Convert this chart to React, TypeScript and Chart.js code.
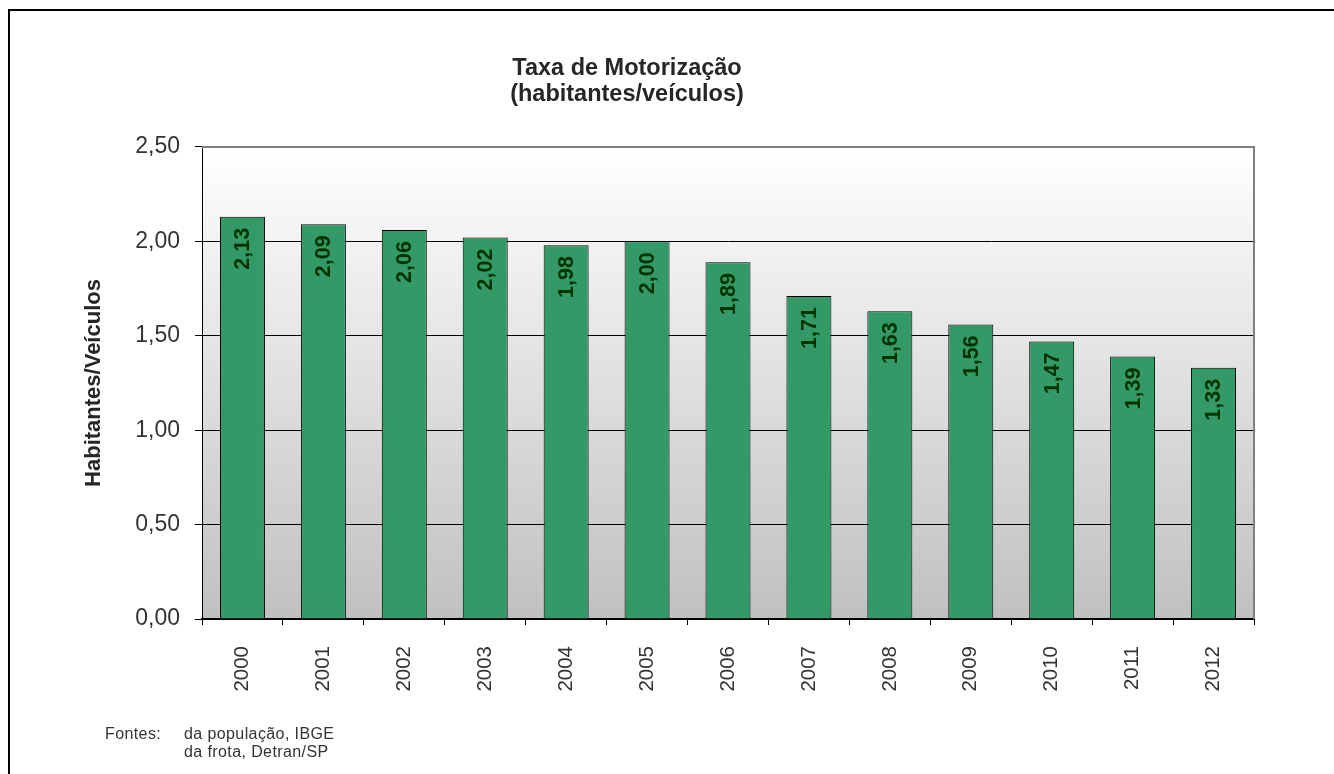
import React, { useEffect, useRef } from 'react';
import { Chart, registerables } from 'chart.js';

Chart.register(...registerables);

const years = ['2000', '2001', '2002', '2003', '2004', '2005', '2006', '2007', '2008', '2009', '2010', '2011', '2012'];
const rates = [2.13, 2.09, 2.06, 2.02, 1.98, 2.0, 1.89, 1.71, 1.63, 1.56, 1.47, 1.39, 1.33];
const yMin = 0;
const yMax = 2.5;
const yStep = 0.5;
const titleLines = ['Taxa de Motorização', '(habitantes/veículos)'];
const yAxisTitle = 'Habitantes/Veículos';
const sourceLabel = 'Fontes:';
const sourceLines = ['da população, IBGE', 'da frota, Detran/SP'];

const FONT = '"Liberation Sans", Arial, Helvetica, sans-serif';
const fmt = (v: number) => v.toFixed(2).replace('.', ',');

const decorPlugin = {
  id: 'decor',
  beforeDraw(chart: any) {
    const { ctx, chartArea: a, width, height } = chart;
    ctx.save();
    ctx.fillStyle = '#ffffff';
    ctx.fillRect(0, 0, width, height);
    const g = ctx.createLinearGradient(0, a.top, 0, a.bottom);
    g.addColorStop(0, '#ffffff');
    g.addColorStop(1, '#c0c0c0');
    ctx.fillStyle = g;
    ctx.fillRect(a.left, a.top, a.right - a.left, a.bottom - a.top);
    ctx.strokeStyle = '#000000';
    ctx.lineWidth = 2;
    ctx.strokeRect(9, 10, width + 40, height + 40);
    ctx.restore();
  },
  afterDatasetsDraw(chart: any) {
    const { ctx } = chart;
    const meta = chart.getDatasetMeta(0);
    ctx.save();
    ctx.fillStyle = '#003300';
    ctx.font = 'bold 21.5px ' + FONT;
    ctx.textAlign = 'right';
    ctx.textBaseline = 'middle';
    meta.data.forEach((bar: any, i: number) => {
      ctx.save();
      ctx.translate(bar.x + 1, bar.y + 11);
      ctx.rotate(-Math.PI / 2);
      ctx.fillText(fmt(rates[i]), 0, 0);
      ctx.restore();
    });
    ctx.restore();
  },
  afterDraw(chart: any) {
    const { ctx, chartArea: a } = chart;
    ctx.save();
    ctx.strokeStyle = '#808080';
    ctx.lineWidth = 2;
    ctx.beginPath();
    ctx.moveTo(a.left, a.top);
    ctx.lineTo(a.right, a.top);
    ctx.lineTo(a.right, a.bottom);
    ctx.stroke();
    // footnote
    ctx.fillStyle = '#333333';
    ctx.font = '16px ' + FONT;
    ctx.textAlign = 'left';
    ctx.textBaseline = 'alphabetic';
    try { (ctx as any).letterSpacing = '0.4px'; } catch (e) {}
    ctx.fillText(sourceLabel, 105, 739);
    ctx.fillText(sourceLines[0], 184, 739);
    ctx.fillText(sourceLines[1], 184, 757);
    ctx.restore();
  },
};

export default function App() {
  const ref = useRef<HTMLCanvasElement | null>(null);

  useEffect(() => {
    if (!ref.current) return;
    const chart = new Chart(ref.current, {
      type: 'bar',
      data: {
        labels: years,
        datasets: [
          {
            data: rates,
            backgroundColor: '#339966',
            borderColor: '#000000',
            borderWidth: 1,
            categoryPercentage: 1,
            barPercentage: 0.556,
          },
        ],
      },
      options: {
        responsive: false,
        animation: false,
        devicePixelRatio: 1,
        layout: { padding: { left: 0, right: 80, top: 0, bottom: 0 } },
        plugins: {
          legend: { display: false },
          tooltip: { enabled: false },
          title: {
            display: true,
            text: titleLines,
            color: '#262626',
            font: { family: FONT, size: 23.5, weight: 'bold', lineHeight: 1.08 },
            padding: { top: 56, bottom: 40.2 },
          },
        },
        scales: {
          x: {
            grid: {
              display: true,
              drawOnChartArea: false,
              drawTicks: true,
              tickLength: 6,
              color: '#000000',
              offset: true,
            },
            border: { display: true, color: '#000000', width: 2 },
            ticks: {
              minRotation: 90,
              maxRotation: 90,
              padding: 21,
              color: '#333333',
              font: { family: FONT, size: 20.5 },
            },
            afterFit(scale: any) {
              scale.height = 155;
            },
          },
          y: {
            min: yMin,
            max: yMax,
            grid: {
              color: (c: any) => (c.tick && c.tick.value === yMax ? 'rgba(0,0,0,0)' : '#000000'),
              tickColor: '#000000',
              tickLength: 7,
              lineWidth: 1,
            },
            border: { display: true, color: '#000000', width: 1 },
            ticks: {
              stepSize: yStep,
              padding: 15,
              color: '#333333',
              font: { family: FONT, size: 23 },
              callback: (v: any) => fmt(Number(v)),
            },
            title: {
              display: true,
              text: yAxisTitle,
              color: '#262626',
              font: { family: FONT, size: 22, weight: 'bold', lineHeight: 1.2 },
              padding: { top: 80.3, bottom: 0 },
            },
            afterFit(scale: any) {
              scale.width = 202;
            },
          },
        },
      },
      plugins: [decorPlugin],
    } as any);
    return () => chart.destroy();
  }, []);

  return (
    <div style={{ position: 'fixed', left: 0, top: 0, width: 1334, height: 774, background: '#fff' }}>
      <canvas ref={ref} width={1334} height={774} style={{ display: 'block' }} />
    </div>
  );
}
